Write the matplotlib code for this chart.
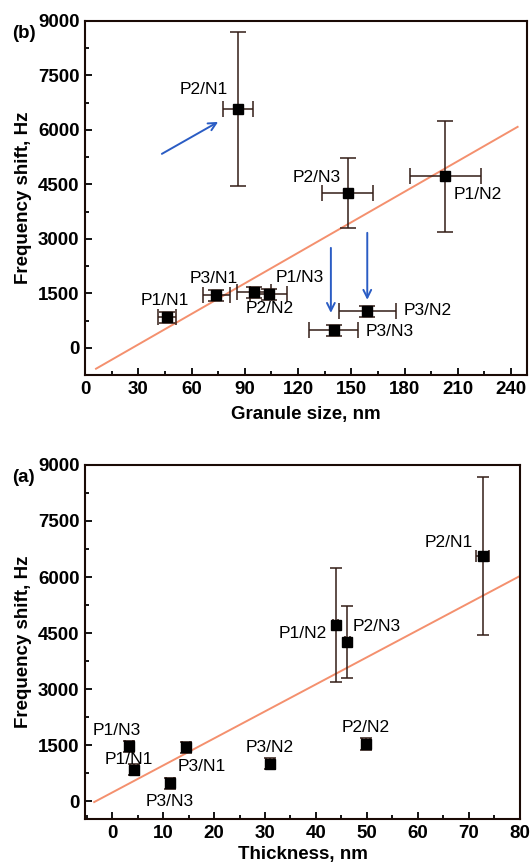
import numpy as np
import matplotlib
matplotlib.use("Agg")
import matplotlib.pyplot as plt
from matplotlib.ticker import MultipleLocator

plt.rcParams['font.family'] = ['Liberation Sans', 'DejaVu Sans']

# samples
samples = ['P2/N1', 'P1/N2', 'P2/N3', 'P2/N2', 'P1/N3', 'P3/N1', 'P3/N2', 'P1/N1', 'P3/N3']
shift = [6570, 4720, 4260, 1530, 1470, 1440, 1000, 840, 475]
shift_err = [2120, 1520, 970, 150, 150, 150, 150, 150, 150]

# granule size (panel b)
granule = [86, 203, 148, 95, 103.5, 74, 159, 46, 140]
granule_err = [8.5, 20, 14.5, 9.5, 10.5, 7.5, 16, 5, 14]

# thickness (panel a)
thickness = [72.7, 43.9, 46.1, 49.8, 3.4, 14.5, 31.0, 4.3, 11.4]
thickness_err = [1.3, 0.5, 0.5, 0.8, 0.8, 0.8, 0.8, 0.8, 0.8]

# linear fits
fit_b = (-752, 28.05, 6.2, 243.7)   # intercept, slope, x from, x to
fit_a = (227, 72.5, -3.5, 80)

# label offsets in points (dx, dy) and alignment
labels_b = {'P2/N1': (-7, 14, 'right'), 'P1/N2': (6, -13, 'left'), 'P2/N3': (-5, 11, 'right'),
            'P2/N2': (-6, -12, 'left'), 'P1/N3': (5, 12, 'left'), 'P3/N1': (-2, 12, 'center'),
            'P3/N2': (26, 1, 'left'), 'P3/N3': (23, -1, 'left'), 'P1/N1': (-1, 12, 'center')}
labels_a = {'P2/N1': (-7, 9.5, 'right'), 'P1/N2': (-6.5, -6.5, 'right'), 'P2/N3': (4, 11, 'left'),
            'P2/N2': (0, 12, 'center'), 'P1/N3': (-9, 11, 'center'), 'P3/N1': (11.5, -14, 'center'),
            'P3/N2': (0, 12, 'center'), 'P1/N1': (-4, 7, 'center'), 'P3/N3': (0, -13, 'center')}

ebar_color = '#331c16'
fit_color = '#f4906e'
arrow_color = '#2a5cc4'

fig = plt.figure(figsize=(5.3, 8.63), dpi=100)
ax_b = fig.add_axes([0.1604, 0.5655, 0.834, 0.4102])
ax_a = fig.add_axes([0.1604, 0.051, 0.8206, 0.4102])


def style_axes(ax):
    for sp in ax.spines.values():
        sp.set_linewidth(1.5)
        sp.set_color('#1a0a05')
    ax.tick_params(which='both', direction='in', top=False, right=False, width=1.3)
    ax.tick_params(which='major', length=5, labelsize=13.5, pad=4)
    ax.tick_params(which='minor', length=3)
    for lab in ax.get_xticklabels() + ax.get_yticklabels():
        lab.set_fontweight('bold')
    ax.yaxis.set_major_locator(MultipleLocator(1500))
    ax.yaxis.set_minor_locator(MultipleLocator(750))


def draw_panel(ax, x, xerr, fit, labels, capsize, ms):
    b0, k, x0, x1 = fit
    xs = np.array([x0, x1])
    ax.plot(xs, b0 + k * xs, color=fit_color, lw=1.4, zorder=1)
    ax.errorbar(x, shift, xerr=xerr, yerr=shift_err, fmt='s', color='black', ms=ms,
                ecolor=ebar_color, elinewidth=1.1, capsize=capsize, capthick=1.1, zorder=3)
    for name, xv, yv in zip(samples, x, shift):
        dx, dy, ha = labels[name]
        ax.annotate(name, (xv, yv), xytext=(dx, dy), textcoords='offset points',
                    ha=ha, va='center', fontsize=12.5)


# panel (b)
draw_panel(ax_b, granule, granule_err, fit_b, labels_b, capsize=6, ms=7.5)
ax_b.set_xlim(0, 249)
ax_b.set_ylim(-750, 9000)
ax_b.xaxis.set_major_locator(MultipleLocator(30))
ax_b.xaxis.set_minor_locator(MultipleLocator(15))
style_axes(ax_b)
ax_b.set_xlabel('Granule size, nm', fontsize=13.5, fontweight='bold', labelpad=6)
ax_b.set_ylabel('Frequency shift, Hz', fontsize=13.5, fontweight='bold', labelpad=4)
ax_b.text(-0.165, 0.966, '(b)', transform=ax_b.transAxes, fontsize=13.5, fontweight='bold',
          ha='left', va='center')

# arrows in panel (b)
arrows = [((43.3, 5340), (75, 6220)), ((138.5, 2750), (138.5, 960)), ((159, 3165), (159, 1320))]
for start, end in arrows:
    ax_b.annotate('', xy=end, xytext=start,
                  arrowprops=dict(arrowstyle='->', color=arrow_color, lw=1.4,
                                  shrinkA=0, shrinkB=0, mutation_scale=14))

# panel (a)
draw_panel(ax_a, thickness, thickness_err, fit_a, labels_a, capsize=4, ms=6.5)
ax_a.set_xlim(-5.3, 80)
ax_a.set_ylim(-480, 9000)
ax_a.xaxis.set_major_locator(MultipleLocator(10))
ax_a.xaxis.set_minor_locator(MultipleLocator(5))
style_axes(ax_a)
ax_a.set_xlabel('Thickness, nm', fontsize=13.5, fontweight='bold', labelpad=3)
ax_a.set_ylabel('Frequency shift, Hz', fontsize=13.5, fontweight='bold', labelpad=4)
ax_a.text(-0.168, 0.966, '(a)', transform=ax_a.transAxes, fontsize=13.5, fontweight='bold',
          ha='left', va='center')

fig.savefig('out.png', dpi=100)
